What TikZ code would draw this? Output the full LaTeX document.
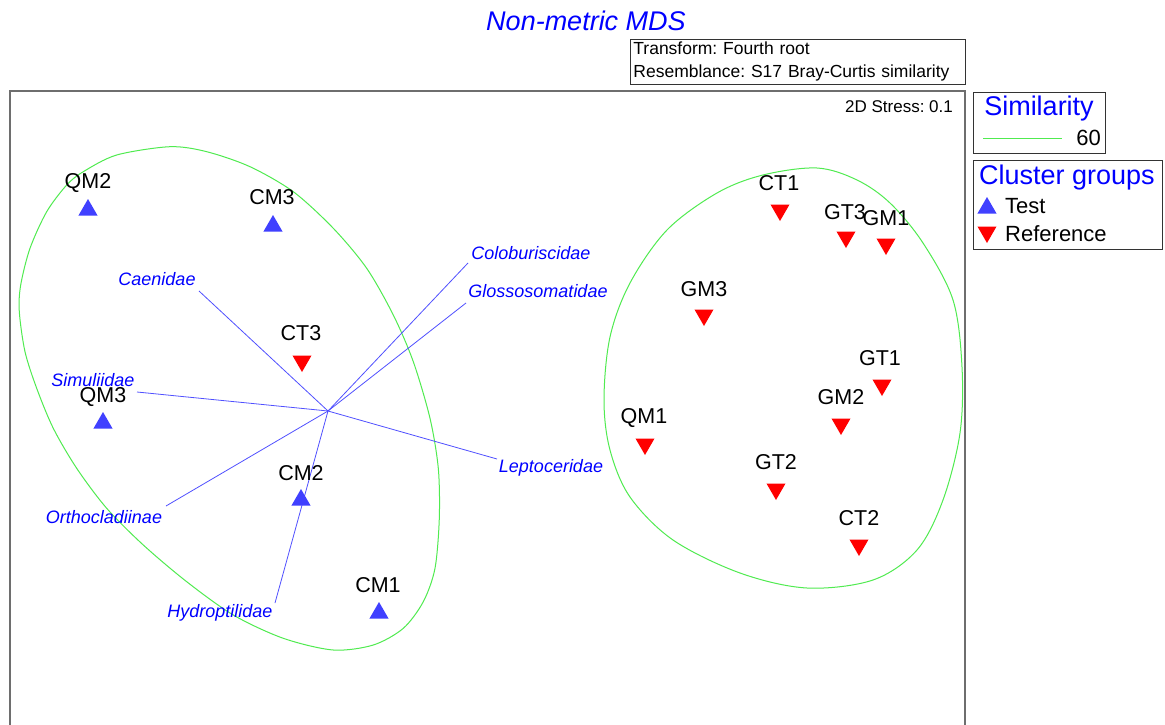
\documentclass[tikz,border=0pt]{standalone}
\usepackage{fontspec}
\setmainfont{Liberation Sans}
\usetikzlibrary{shapes.geometric}
\definecolor{mblue}{RGB}{0,0,255}
\definecolor{tblue}{RGB}{64,64,255}
\definecolor{rayblue}{RGB}{80,80,255}
\definecolor{rred}{RGB}{255,0,0}
\definecolor{cgreen}{RGB}{80,235,80}
\definecolor{framegray}{RGB}{110,110,110}
\begin{document}
\frenchspacing
\begin{tikzpicture}[x=1pt,y=-1pt,
  up/.style={regular polygon, regular polygon sides=3, fill=tblue, draw=none, inner sep=0pt, minimum size=22pt},
  dn/.style={regular polygon, regular polygon sides=3, shape border rotate=180, fill=rred, draw=none, inner sep=0pt, minimum size=22pt},
  lab/.style={font=\fontsize{21.5}{24}\selectfont, inner sep=0pt, text=black},
  sp/.style={font=\fontsize{18}{21}\selectfont\itshape, text=mblue, inner sep=0pt},
  ray/.style={draw=rayblue, line width=0.8pt},
  contour/.style={draw=cgreen, line width=1pt},
  legbox/.style={draw=black!80, line width=0.8pt},
  head/.style={font=\fontsize{27}{30}\selectfont, text=mblue, inner sep=0pt},
  item/.style={font=\fontsize{22}{25}\selectfont, text=black, inner sep=0pt}
]
\useasboundingbox (0,0) rectangle (1165,725);
\fill[white] (0,0) rectangle (1165,725);

% title and info box
\node[font=\fontsize{27}{30}\selectfont\itshape, text=mblue, inner sep=0pt] (title) at (586,21) {Non-metric MDS};
\node[legbox, anchor=north west, minimum width=335pt, minimum height=45pt, text width=329pt, inner xsep=3pt, inner ysep=0pt, align=left, font=\fontsize{17.5}{23}\selectfont] (info) at (630,39) {Transform: Fourth root\\Resemblance: S17 Bray-Curtis similarity};

% plot frame
\draw[framegray, line width=1.2pt] (10,740) -- (10,91) -- (965,91) -- (965,740);
\node[font=\fontsize{17}{19}\selectfont, inner sep=0pt] (stress) at (899,107) {2D Stress: 0.1};

% similarity contours
\draw[contour] plot[smooth cycle, tension=0.5] coordinates {
  (170,146.7) (206.7,151.7) (250,166.7) (293.3,191.7) (333.3,228.3) (366.7,268.3)
  (393.3,315) (413.3,361.7) (430,418.3) (438.3,468.3) (439.3,518.3) (435,568.3)
  (423.3,601.7) (403.3,628.3) (373.3,645) (333.3,650) (283.3,638.3) (233.3,615)
  (186.7,581.7) (143.3,545) (106.7,508.3) (76.7,468.3) (53.3,428.3) (36.7,388.3)
  (25,351.7) (19.3,311.7) (20.7,285) (30,248.3) (46.7,211.7) (66.7,185)
  (83.3,171.7) (116.7,155)};
\draw[contour] plot[smooth cycle, tension=0.55] coordinates {
  (817,168) (857,180) (890,203) (923,243) (953,300) (962,367) (960,433) (943,500)
  (917,550) (873,580) (807,588) (740,573) (673,540) (630,497) (610,450) (604,400)
  (610,337) (630,283) (667,230) (717,193) (763,175)};

% species vectors
\coordinate (hub) at (328,411);
\coordinate (eCae) at (199,291);
\coordinate (eCol) at (468,263);
\coordinate (eGlo) at (466,303);
\coordinate (eSim) at (137,392);
\coordinate (eLep) at (497,459);
\coordinate (eOrt) at (166,506);
\coordinate (eHyd) at (275,603);
\foreach \e in {eCae,eCol,eGlo,eSim,eLep,eOrt,eHyd} \draw[ray] (hub) -- (\e);
\node[sp] (Cae) at (157,279) {Caenidae};
\node[sp] (Col) at (531,253) {Coloburiscidae};
\node[sp] (Glo) at (538,291) {Glossosomatidae};
\node[sp] (Sim) at (93,380) {Simuliidae};
\node[sp] (Lep) at (551,468) {Leptoceridae};
\node[sp] (Ort) at (104,517) {Orthocladiinae};
\node[sp] (Hyd) at (220,613) {Hydroptilidae};

% Test samples (up triangles)
\node[up] (QM2) at (88,210) {};  \node[lab] (QM2l) at (88,183) {QM2};
\node[up] (CM3) at (273,226) {}; \node[lab] (CM3l) at (272,197) {CM3};
\node[up] (QM3) at (103,423) {}; \node[lab] (QM3l) at (103,397) {QM3};
\node[up] (CM2) at (301,500) {}; \node[lab] (CM2l) at (301,473) {CM2};
\node[up] (CM1) at (379,613) {}; \node[lab] (CM1l) at (378,585) {CM1};

% Reference samples (down triangles)
\node[dn] (CT3) at (302,361) {}; \node[lab] (CT3l) at (301,333) {CT3};
\node[dn] (CT1) at (780,210) {}; \node[lab] (CT1l) at (779,183) {CT1};
\node[dn] (GT3) at (846,237) {}; \node[lab] (GT3l) at (845,212) {GT3};
\node[dn] (GM1) at (886,244) {}; \node[lab] (GM1l) at (886,218) {GM1};
\node[dn] (GM3) at (704,315) {}; \node[lab] (GM3l) at (704,289) {GM3};
\node[dn] (GT1) at (882,385) {}; \node[lab] (GT1l) at (880,358) {GT1};
\node[dn] (GM2) at (841,424) {}; \node[lab] (GM2l) at (841,397) {GM2};
\node[dn] (QM1) at (645,444) {}; \node[lab] (QM1l) at (644,418) {QM1};
\node[dn] (GT2) at (776,489) {}; \node[lab] (GT2l) at (776,462) {GT2};
\node[dn] (CT2) at (859,545) {}; \node[lab] (CT2l) at (859,518) {CT2};

% legend: similarity
\draw[legbox] (973,92) rectangle (1105,153);
\node[head] (simhead) at (1039,109) {Similarity};
\coordinate (gl1) at (983,138);
\coordinate (gl2) at (1062,138);
\draw[contour] (gl1) -- (gl2);
\node[item, anchor=east] (sixty) at (1101,138) {60};

% legend: cluster groups
\draw[legbox] (973,160) rectangle (1162,249);
\node[head] (cghead) at (1067,178) {Cluster groups};
\node[up] (legT) at (987,208) {};
\node[item, anchor=west] (legTl) at (1005,206) {Test};
\node[dn] (legR) at (987,232) {};
\node[item, anchor=west] (legRl) at (1005,234) {Reference};
\end{tikzpicture}
\end{document}
